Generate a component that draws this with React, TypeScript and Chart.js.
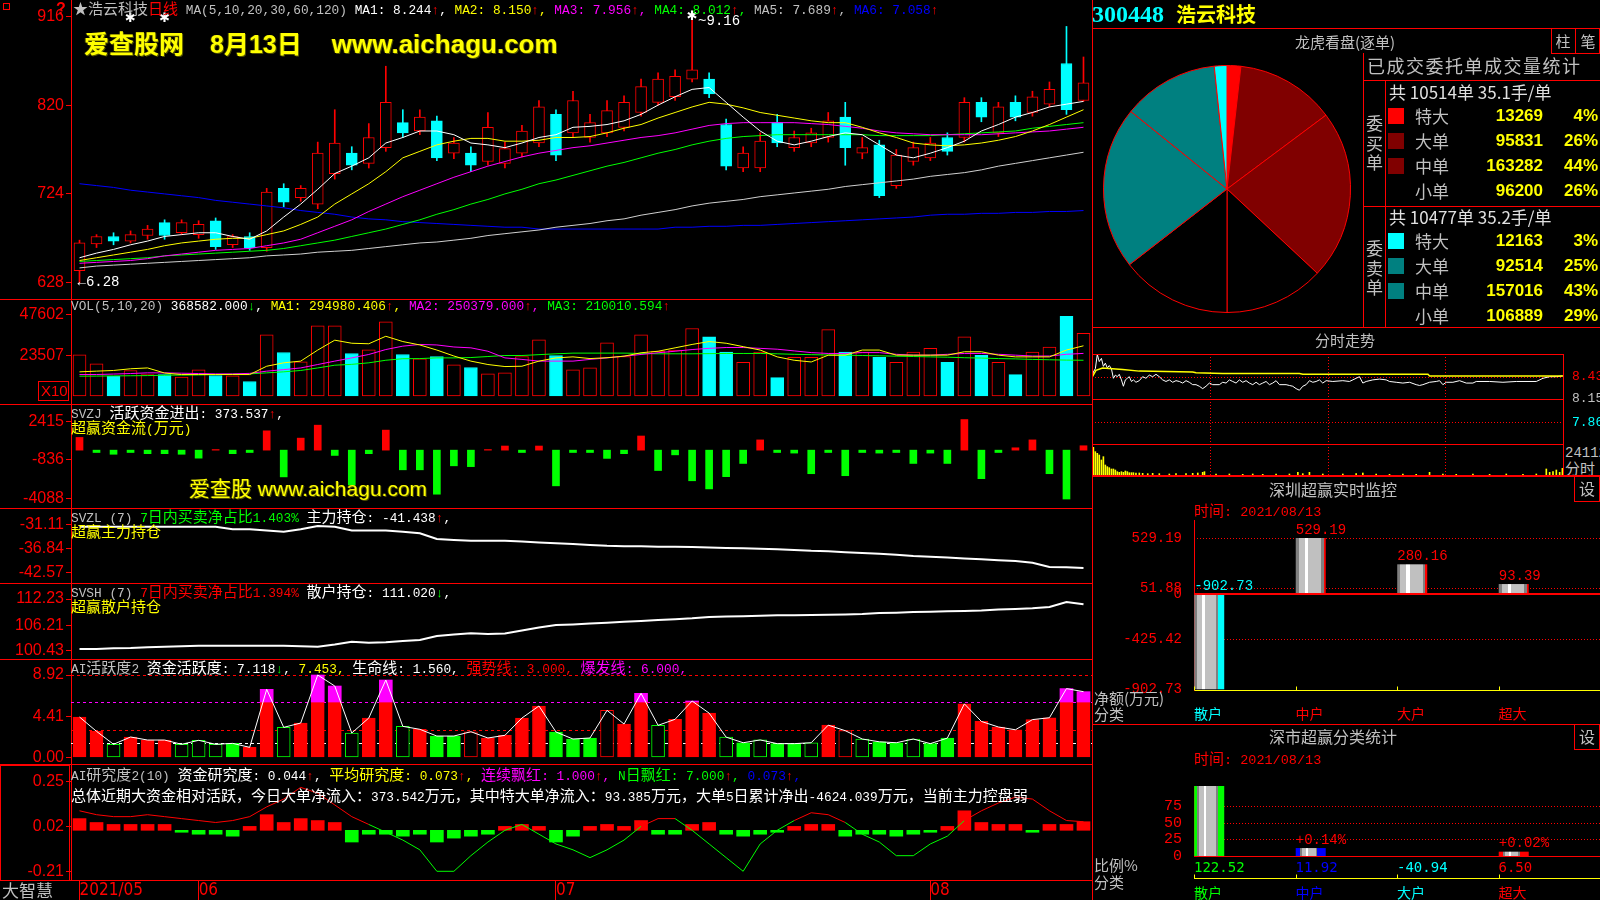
import React, { useEffect, useRef } from 'react';
import { Chart, registerables } from 'chart.js';

Chart.register(...registerables);

const RED = '#ff0000';
const DARKRED = '#800000';
const CYAN = '#00ffff';
const TEAL = '#008080';
const GREEN = '#00ff00';
const YELLOW = '#ffff00';
const MAGENTA = '#ff00ff';
const WHITE = '#ffffff';
const GRAY = '#c0c0c0';
const BLUE = '#0000ff';
const MONO = '"Liberation Mono", "DejaVu Sans Mono", monospace';
const CJK = '"Noto Sans CJK SC", sans-serif';
const NUM = '"Liberation Sans", Arial, sans-serif';
const NARROW = '"Liberation Sans Narrow", "DejaVu Sans Condensed", "Liberation Sans", sans-serif';

// ---------------- daily data ----------------
const dates = [
  '2021/05/21', '2021/05/24', '2021/05/25', '2021/05/26', '2021/05/27', '2021/05/28', '2021/05/31',
  '2021/06/01', '2021/06/02', '2021/06/03', '2021/06/04', '2021/06/07', '2021/06/08', '2021/06/09', '2021/06/10', '2021/06/11',
  '2021/06/15', '2021/06/16', '2021/06/17', '2021/06/18', '2021/06/21', '2021/06/22', '2021/06/23', '2021/06/24', '2021/06/25',
  '2021/06/28', '2021/06/29', '2021/06/30',
  '2021/07/01', '2021/07/02', '2021/07/05', '2021/07/06', '2021/07/07', '2021/07/08', '2021/07/09', '2021/07/12', '2021/07/13',
  '2021/07/14', '2021/07/15', '2021/07/16', '2021/07/19', '2021/07/20', '2021/07/21', '2021/07/22', '2021/07/23', '2021/07/26',
  '2021/07/27', '2021/07/28', '2021/07/29', '2021/07/30',
  '2021/08/02', '2021/08/03', '2021/08/04', '2021/08/05', '2021/08/06', '2021/08/09', '2021/08/10', '2021/08/11', '2021/08/12', '2021/08/13',
];
const opens = [6.41, 6.70, 6.78, 6.73, 6.79, 6.93, 6.82, 6.80, 6.95, 6.69, 6.78, 6.66, 7.30, 7.20, 7.13, 7.46, 7.68, 7.57, 7.74, 8.01, 7.92, 8.03, 7.68, 7.68, 7.59, 7.57, 7.68, 7.79, 8.10, 7.90, 7.85, 7.90, 7.96, 8.12, 8.23, 8.29, 8.48, 8.48, 7.99, 7.52, 7.52, 8.01, 7.74, 7.79, 7.85, 8.07, 7.68, 7.77, 7.33, 7.59, 7.63, 7.85, 7.85, 8.23, 7.90, 8.23, 8.12, 8.21, 8.65, 8.25];
const highs = [6.74, 6.80, 6.82, 6.84, 6.90, 6.96, 6.96, 6.95, 6.98, 6.80, 6.82, 7.30, 7.35, 7.33, 7.80, 8.15, 7.75, 8.00, 8.62, 8.15, 8.15, 8.08, 7.85, 7.75, 8.12, 7.80, 7.98, 8.25, 8.15, 8.35, 8.10, 8.25, 8.30, 8.48, 8.55, 8.58, 9.16, 8.55, 8.05, 7.75, 7.90, 8.10, 7.92, 7.95, 8.12, 8.23, 7.85, 7.82, 7.72, 7.80, 7.85, 7.90, 8.28, 8.28, 8.23, 8.30, 8.35, 8.45, 9.05, 8.72];
const lows = [6.28, 6.66, 6.69, 6.71, 6.75, 6.75, 6.80, 6.76, 6.64, 6.66, 6.63, 6.62, 7.10, 7.16, 7.08, 7.40, 7.50, 7.52, 7.70, 7.85, 7.88, 7.60, 7.62, 7.48, 7.55, 7.52, 7.64, 7.75, 7.60, 7.86, 7.80, 7.86, 7.92, 8.08, 8.20, 8.25, 8.45, 8.28, 7.50, 7.48, 7.48, 7.75, 7.70, 7.75, 7.80, 7.55, 7.62, 7.20, 7.30, 7.55, 7.60, 7.66, 7.80, 8.02, 7.86, 8.03, 8.08, 8.18, 8.10, 8.24];
const closes = [6.71, 6.78, 6.73, 6.80, 6.86, 6.79, 6.93, 6.91, 6.67, 6.78, 6.66, 7.26, 7.15, 7.30, 7.68, 7.79, 7.55, 7.85, 8.23, 7.90, 8.07, 7.63, 7.79, 7.55, 7.96, 7.73, 7.92, 8.18, 7.66, 8.25, 8.01, 8.14, 8.23, 8.40, 8.48, 8.51, 8.58, 8.32, 7.54, 7.68, 7.81, 7.79, 7.85, 7.90, 8.03, 7.74, 7.74, 7.22, 7.66, 7.74, 7.79, 7.70, 8.23, 8.07, 8.18, 8.07, 8.29, 8.37, 8.15, 8.44];
const ma5 = [6.55, 6.60, 6.64, 6.69, 6.73, 6.78, 6.80, 6.82, 6.82, 6.78, 6.75, 6.84, 6.99, 7.13, 7.29, 7.46, 7.54, 7.63, 7.79, 7.85, 7.92, 7.92, 7.88, 7.79, 7.77, 7.74, 7.79, 7.85, 7.88, 7.96, 7.97, 7.99, 8.03, 8.10, 8.20, 8.29, 8.37, 8.39, 8.23, 8.07, 7.92, 7.81, 7.77, 7.81, 7.86, 7.90, 7.88, 7.77, 7.66, 7.63, 7.68, 7.74, 7.81, 7.92, 7.99, 8.07, 8.12, 8.18, 8.21, 8.24];
const ma10 = [6.52, 6.55, 6.58, 6.61, 6.64, 6.68, 6.71, 6.73, 6.75, 6.76, 6.76, 6.80, 6.84, 6.91, 6.99, 7.13, 7.24, 7.35, 7.48, 7.63, 7.70, 7.77, 7.81, 7.84, 7.84, 7.81, 7.81, 7.82, 7.85, 7.85, 7.86, 7.90, 7.95, 7.99, 8.06, 8.12, 8.18, 8.23, 8.21, 8.17, 8.12, 8.09, 8.06, 8.03, 8.01, 8.01, 7.96, 7.90, 7.85, 7.79, 7.77, 7.76, 7.77, 7.79, 7.82, 7.86, 7.92, 7.99, 8.07, 8.15];
const ma20 = [6.49, 6.50, 6.51, 6.52, 6.54, 6.57, 6.59, 6.61, 6.63, 6.64, 6.65, 6.68, 6.71, 6.75, 6.82, 6.89, 6.96, 7.05, 7.13, 7.21, 7.28, 7.35, 7.42, 7.48, 7.54, 7.59, 7.64, 7.68, 7.71, 7.74, 7.76, 7.79, 7.82, 7.85, 7.87, 7.90, 7.94, 7.98, 8.00, 8.01, 8.01, 8.01, 8.01, 8.00, 7.99, 7.97, 7.95, 7.92, 7.90, 7.89, 7.88, 7.88, 7.88, 7.88, 7.89, 7.90, 7.91, 7.92, 7.94, 7.96];
const ma30 = [6.51, 6.52, 6.53, 6.54, 6.55, 6.57, 6.58, 6.59, 6.60, 6.61, 6.62, 6.63, 6.65, 6.68, 6.71, 6.74, 6.78, 6.82, 6.86, 6.91, 6.96, 7.02, 7.07, 7.13, 7.18, 7.24, 7.29, 7.35, 7.39, 7.44, 7.49, 7.54, 7.58, 7.63, 7.68, 7.72, 7.77, 7.81, 7.84, 7.86, 7.87, 7.88, 7.88, 7.88, 7.88, 7.88, 7.88, 7.87, 7.87, 7.87, 7.87, 7.88, 7.89, 7.90, 7.91, 7.92, 7.95, 7.97, 7.99, 8.01];
const ma60 = [6.44, 6.46, 6.47, 6.48, 6.49, 6.50, 6.51, 6.52, 6.53, 6.54, 6.55, 6.57, 6.58, 6.59, 6.61, 6.62, 6.63, 6.65, 6.67, 6.69, 6.71, 6.72, 6.74, 6.76, 6.79, 6.81, 6.83, 6.85, 6.88, 6.90, 6.92, 6.95, 6.97, 7.01, 7.04, 7.07, 7.11, 7.14, 7.16, 7.18, 7.21, 7.23, 7.25, 7.27, 7.29, 7.32, 7.34, 7.36, 7.38, 7.40, 7.43, 7.45, 7.47, 7.50, 7.54, 7.57, 7.60, 7.63, 7.66, 7.69];
const ma120 = [7.35, 7.33, 7.31, 7.28, 7.26, 7.24, 7.22, 7.20, 7.17, 7.15, 7.13, 7.11, 7.09, 7.06, 7.04, 7.02, 6.99, 6.97, 6.96, 6.94, 6.93, 6.92, 6.91, 6.90, 6.89, 6.88, 6.88, 6.86, 6.86, 6.86, 6.86, 6.86, 6.86, 6.86, 6.86, 6.88, 6.88, 6.89, 6.89, 6.90, 6.90, 6.91, 6.92, 6.93, 6.94, 6.95, 6.96, 6.97, 6.98, 6.99, 7.01, 7.02, 7.02, 7.03, 7.03, 7.04, 7.04, 7.05, 7.05, 7.06];
const priceTicks = [6.28, 7.24, 8.2, 9.16];
const eventBars = [3, 5];

const volume = [24200, 18900, 11650, 15000, 12640, 12640, 11050, 15400, 12050, 11870, 8520, 35970, 25570, 20100, 41250, 41250, 24980, 27150, 43600, 24400, 21860, 23200, 18340, 16750, 13050, 13640, 23200, 33030, 23800, 15400, 16570, 31270, 23200, 35970, 26330, 26920, 39670, 34760, 25770, 19780, 25770, 10790, 22770, 22770, 38960, 25770, 25770, 22770, 19780, 25770, 28000, 19780, 34760, 23970, 19780, 12590, 25770, 28770, 46750, 36858];
const volMa5 = [14200, 14600, 15000, 16000, 16500, 13500, 12600, 12600, 12600, 12600, 12600, 17500, 19500, 20500, 27000, 32800, 31000, 30700, 35100, 32000, 30000, 27000, 23500, 20500, 18500, 17300, 17500, 20500, 22400, 23000, 22000, 22500, 23400, 25400, 26300, 28300, 30300, 32000, 31000, 29000, 27000, 23000, 21000, 20000, 24000, 24000, 27000, 27000, 24000, 24000, 24000, 24000, 26000, 26000, 24000, 23000, 23000, 23000, 27000, 29498];
const volMa10 = [12630, 12630, 12900, 13200, 13600, 13600, 13400, 13200, 13000, 13000, 13300, 14600, 15500, 16500, 18500, 20500, 22400, 24400, 27300, 29300, 30300, 30000, 28800, 28300, 26300, 22400, 21500, 20500, 20500, 20500, 21500, 22400, 23400, 24400, 25400, 26300, 27300, 28000, 28500, 28500, 28000, 27500, 26500, 25500, 25000, 25000, 25500, 25500, 24500, 24000, 24000, 24500, 25000, 25000, 24500, 24000, 23500, 23500, 24500, 25038];
const volMa20 = [11650, 11700, 11800, 11900, 12000, 12200, 12300, 12400, 12600, 12800, 13000, 13600, 14200, 15000, 16500, 18100, 18600, 19500, 21000, 21900, 22000, 22400, 22400, 22600, 23200, 23800, 23800, 24300, 24800, 25200, 25200, 25200, 25200, 25000, 24800, 24800, 24800, 24900, 25000, 25000, 25000, 24800, 24500, 24300, 24100, 24000, 23800, 23600, 23400, 23200, 23000, 22800, 22500, 22300, 22000, 21800, 21500, 21300, 21100, 21001];
const volTicks = [23507, 47602];

const flow = [1078, -200, -350, -200, -300, -300, -350, -680, 50, -300, -200, 1640, -2270, 1020, 2120, -450, -2970, -300, 1700, -1670, -1670, -3740, -1330, -1400, 50, 350, -200, 350, -3030, -200, -200, -700, -300, 1200, -1730, -400, -2600, -3290, -2250, -1130, 870, -200, -250, -2000, -200, -2170, -200, -250, -200, -1130, -250, -1130, 2600, -2420, -200, 200, 870, -2000, -4150, 374];
const flowTicks = [-4088, -836, 2415];

const mainHold = [-31.68, -31.68, -31.68, -31.68, -31.68, -31.68, -31.68, -31.68, -31.68, -32.29, -32.29, -32.6, -32.86, -32.29, -31.51, -31.68, -32.6, -32.6, -32.6, -32.9, -33.24, -34.59, -34.83, -34.99, -34.99, -35.0, -35.2, -35.4, -35.6, -35.8, -36.0, -36.2, -36.3, -36.3, -36.4, -36.4, -36.5, -36.6, -36.7, -36.8, -36.9, -37.0, -37.2, -37.4, -37.5, -37.7, -37.9, -38.1, -38.3, -38.6, -38.8, -39.0, -39.2, -39.4, -39.6, -39.8, -40.2, -41.2, -41.3, -41.44];
const mainTicks = [-42.57, -36.84, -31.11];

const retailHold = [100.77, 100.77, 100.93, 101.0, 101.2, 101.3, 101.4, 101.5, 101.53, 101.53, 101.53, 101.53, 101.5, 101.4, 101.3, 101.8, 102.45, 102.22, 102.3, 102.6, 102.83, 103.75, 104.1, 104.37, 104.2, 104.3, 105.0, 105.7, 106.27, 106.4, 106.6, 106.8, 107.0, 107.2, 107.4, 107.6, 107.8, 108.1, 108.2, 108.3, 108.4, 108.5, 108.5, 108.56, 108.6, 108.7, 108.8, 109.0, 109.1, 109.25, 109.3, 109.4, 109.5, 109.6, 109.8, 109.94, 110.1, 110.4, 111.54, 111.02];
const retailTicks = [100.43, 106.21, 112.23];

const activity = [4.38, 2.83, 1.43, 2.22, 1.89, 1.89, 1.43, 1.86, 1.43, 1.53, 1.10, 7.37, 3.26, 3.73, 8.92, 7.73, 2.65, 4.27, 8.38, 3.37, 3.05, 2.32, 2.32, 2.79, 2.11, 2.40, 4.27, 5.57, 2.76, 2.00, 2.11, 5.10, 3.62, 6.94, 3.48, 4.13, 6.11, 4.8, 2.2, 1.6, 1.9, 1.5, 1.5, 1.6, 3.5, 2.9, 2.0, 1.7, 1.6, 2.0, 1.5, 2.1, 5.8, 3.9, 3.3, 3.0, 4.1, 4.3, 7.45, 7.12];
const activityKind = 'RRgRRRgggGRRgRRRgRRgRGGrRRRRGGGrRRgRR' + 'RgGgGGgRrgGGgGGRRRRRRRR';
const activityTicks = [0, 4.41, 8.92];
const activityLevels = [8.92, 6, 3, 1.56];

const research = [0.06, 0.04, 0.03, 0.03, 0.03, 0.03, -0.01, -0.02, -0.02, -0.03, 0.02, 0.08, 0.04, 0.06, 0.05, 0.04, -0.06, -0.02, -0.02, -0.03, -0.02, -0.06, -0.04, -0.03, -0.02, 0.02, 0.03, 0.02, -0.06, -0.03, 0.02, 0.03, 0.02, 0.05, -0.02, -0.02, 0.03, 0.04, -0.02, -0.03, -0.02, -0.01, 0.02, 0.03, 0.03, -0.03, -0.02, -0.02, -0.03, -0.02, -0.01, 0.02, 0.10, 0.04, 0.03, 0.03, -0.01, 0.03, 0.03, 0.044];
const researchLine = [0.10, 0.08, 0.07, 0.07, 0.08, 0.07, 0.06, 0.05, 0.04, 0.05, 0.07, 0.12, 0.16, 0.22, 0.19, 0.13, 0.07, 0.03, -0.01, -0.05, -0.10, -0.21, -0.21, -0.13, -0.06, 0.00, 0.03, -0.02, -0.07, -0.10, -0.14, -0.10, -0.05, 0.02, 0.06, 0.06, 0.00, -0.07, -0.14, -0.21, -0.07, 0.00, 0.05, 0.09, 0.08, 0.04, -0.02, -0.06, -0.13, -0.13, -0.07, -0.03, 0.05, 0.10, 0.14, 0.17, 0.16, 0.10, 0.05, 0.044];
const researchTicks = [-0.21, 0.02, 0.25];

// ---------------- order statistics (pie) ----------------
const orderTypes = ['特大', '大单', '中单', '小单'];
const buyVolume = [13269, 95831, 163282, 96200];
const sellVolume = [12163, 92514, 157016, 106889];
const buyOrders = '10514';
const sellOrders = '10477';
const buyAvg = '35.1';
const sellAvg = '35.2';

// ---------------- intraday ----------------
const intradayMin = [0, 0.7, 1.7, 2.7, 3.7, 4.8, 5.8, 6.8, 7.8, 8.8, 9.9, 10.9, 11.9, 12.9, 13.9, 15.0, 16.0, 17.0, 18.0, 19.0, 20.1, 21.1, 22.4, 24.1, 25.8, 27.5, 29.2, 30.9, 32.6, 34.3, 36.0, 37.7, 39.4, 41.1, 42.8, 44.5, 46.2, 47.9, 49.6, 51.3, 53.0, 54.7, 56.4, 58.1, 59.8, 61.5, 64.9, 66.6, 68.3, 70.0, 71.7, 73.4, 75.1, 76.8, 78.5, 80.2, 81.9, 83.6, 85.3, 87.0, 88.7, 90.4, 92.1, 93.8, 95.5, 98.9, 100.6, 102.3, 104.0, 105.7, 107.4, 109.1, 110.8, 112.5, 114.2, 115.9, 117.6, 119.3, 122.7, 127.8, 131.2, 134.6, 136.3, 138.0, 139.7, 143.1, 146.5, 149.9, 151.6, 155.0, 158.4, 161.8, 165.2, 166.9, 168.6, 172.0, 175.4, 177.1, 178.8, 180.5, 183.9, 187.3, 190.7, 194.1, 195.8, 202.6, 209.4, 216.2, 226.4, 229.8, 233.2, 236.6, 239.7];
const intradayPx = [8.41, 8.49, 8.53, 8.71, 8.62, 8.66, 8.56, 8.60, 8.54, 8.57, 8.53, 8.41, 8.45, 8.43, 8.46, 8.39, 8.31, 8.39, 8.41, 8.43, 8.37, 8.39, 8.36, 8.38, 8.43, 8.41, 8.45, 8.43, 8.46, 8.43, 8.39, 8.37, 8.39, 8.36, 8.38, 8.37, 8.35, 8.38, 8.36, 8.33, 8.33, 8.31, 8.28, 8.31, 8.35, 8.33, 8.33, 8.36, 8.35, 8.39, 8.37, 8.35, 8.39, 8.36, 8.38, 8.35, 8.33, 8.36, 8.33, 8.35, 8.37, 8.33, 8.35, 8.38, 8.33, 8.33, 8.32, 8.31, 8.28, 8.26, 8.31, 8.33, 8.38, 8.36, 8.37, 8.39, 8.35, 8.38, 8.37, 8.38, 8.37, 8.41, 8.43, 8.35, 8.37, 8.39, 8.40, 8.39, 8.37, 8.36, 8.35, 8.36, 8.33, 8.32, 8.33, 8.36, 8.37, 8.38, 8.33, 8.36, 8.36, 8.38, 8.35, 8.35, 8.37, 8.37, 8.36, 8.37, 8.37, 8.41, 8.43, 8.43, 8.44];
const avgMin = [0, 2, 5.4, 10.5, 15.6, 24.1, 51.3, 53, 66.6, 105.7, 107.4, 171.2, 172, 240];
const avgPx = [8.42, 8.51, 8.54, 8.53, 8.52, 8.50, 8.49, 8.48, 8.47, 8.47, 8.46, 8.46, 8.44, 8.44];
const ivolMin = [0.7, 1.7, 2.7, 3.7, 4.8, 5.8, 6.8, 7.8, 8.8, 9.9, 10.9, 11.9, 12.9, 13.9, 15.0, 16.0, 17.0, 18.0, 19.0, 20.1, 21.1, 22.4, 24.1, 25.8, 28.4, 30.9, 34.3, 39.4, 42.8, 47.9, 51.3, 53.9, 56.4, 57.3, 63.2, 70.0, 76.8, 81.9, 87.0, 93.8, 100.6, 104.9, 107.4, 110.8, 117.6, 127.8, 134.6, 138.0, 144.8, 151.6, 158.4, 165.2, 172.0, 178.8, 185.6, 194.1, 202.6, 211.1, 219.6, 226.4, 231.5, 233.2, 234.9, 236.6, 238.3, 239.7];
const ivolVal = [21520, 18150, 16850, 15560, 11670, 14260, 7780, 6480, 5700, 4670, 4670, 3890, 2590, 2070, 2590, 2070, 3110, 2590, 1810, 1810, 1810, 1560, 1560, 1300, 1040, 1300, 1040, 780, 1040, 1040, 1300, 1560, 2070, 2590, 780, 780, 520, 780, 520, 780, 780, 2070, 1040, 2070, 780, 780, 1040, 1560, 780, 520, 780, 520, 2070, 780, 520, 780, 520, 780, 520, 780, 4670, 2070, 2590, 3890, 2070, 5190];
const intradayTicks = [7.86, 8.15, 8.43];
const intradayVolMax = 24112;

// ---------------- Shenzhen monitors ----------------
const monitorCats = ['散户', '中户', '大户', '超大'];
const monitorNet = [-902.73, 529.19, 280.16, 93.39];
const monitorTicks = [-902.73, -425.42, 0, 51.88, 529.19];
const ratioVal = [122.52, 11.92, -40.94, 6.5];
const ratioChange = ['', '+0.14%', '', '+0.02%'];
const ratioTicks = [0, 25, 50, 75];

// ---------------- helpers ----------------
const isUp = (i: number) => closes[i] >= opens[i];
const AXIS_W = 71;

function leftAxis(min: number, max: number, ticks: number[], fmt: (v: number) => string) {
  return {
    type: 'linear', position: 'left', min, max,
    afterBuildTicks: (s: any) => { s.ticks = ticks.map((value) => ({ value })); },
    afterFit: (s: any) => { s.width = AXIS_W; s.paddingTop = 0; s.paddingBottom = 0; },
    ticks: { color: RED, font: { family: NUM, size: 16 }, padding: 2, autoSkip: false, callback: (v: any) => fmt(Number(v)) },
    grid: { drawOnChartArea: false, color: RED, tickLength: 5 },
    border: { color: RED },
  };
}
const hiddenX = () => ({ type: 'category', display: false, offset: true });

function opts(scales: any, plugins: any = {}, layout: any = { padding: 0 }) {
  return {
    responsive: false, animation: false, devicePixelRatio: 1, events: [], layout, scales,
    plugins: { legend: { display: false }, tooltip: { enabled: false }, ...plugins },
  };
}

function drawGuides(chart: any, list: any[]) {
  if (!list) return;
  const { ctx, chartArea: a } = chart;
  ctx.save();
  for (const g of list) {
    ctx.beginPath();
    ctx.strokeStyle = g.color;
    ctx.lineWidth = g.width || 1;
    ctx.setLineDash(g.dash || []);
    if (g.y !== undefined) {
      const y = Math.round(chart.scales[g.axis || 'y'].getPixelForValue(g.y)) + ((g.width || 1) % 2 ? 0.5 : 0);
      ctx.moveTo(a.left, y); ctx.lineTo(a.right, y);
    } else {
      const x = Math.round(chart.scales.x.getPixelForValue(g.x)) + 0.5;
      ctx.moveTo(x, a.top); ctx.lineTo(x, a.bottom);
    }
    ctx.stroke();
  }
  ctx.restore();
}
const guides = {
  id: 'guides',
  beforeDatasetsDraw(chart: any, _a: any, o: any) { drawGuides(chart, o.before); },
  afterDatasetsDraw(chart: any, _a: any, o: any) { drawGuides(chart, o.after); },
};

const priceMarks = {
  id: 'priceMarks',
  afterDatasetsDraw(chart: any) {
    const { ctx } = chart;
    const xs = chart.scales.x, ys = chart.scales.y;
    const hi = Math.max(...highs), hiI = highs.indexOf(hi);
    const lo = Math.min(...lows), loI = lows.indexOf(lo);
    ctx.save();
    ctx.fillStyle = WHITE;
    ctx.textBaseline = 'middle';
    ctx.font = '13px "DejaVu Sans"';
    ctx.textAlign = 'center';
    const hx = xs.getPixelForValue(hiI), hy = ys.getPixelForValue(hi);
    ctx.fillText('✱', hx, hy);
    eventBars.forEach((i) => ctx.fillText('✱', xs.getPixelForValue(i), 19));
    ctx.font = '14px ' + MONO;
    ctx.textAlign = 'left';
    ctx.fillText('~' + hi.toFixed(2), hx + 6, hy + 5);
    ctx.fillText('←' + lo.toFixed(2), xs.getPixelForValue(loI) - 2, ys.getPixelForValue(lo));
    ctx.restore();
  },
};

const INNER: [number, string][] = [[0.1, '#808080'], [0.22, '#c0c0c0'], [0.13, '#ffffff'], [0.45, '#c0c0c0'], [0.1, '#808080']];
const stripes = {
  id: 'stripes',
  afterDatasetsDraw(chart: any, _a: any, o: any) {
    const { ctx, chartArea: a } = chart;
    const els = chart.getDatasetMeta(0).data;
    ctx.save();
    ctx.beginPath();
    ctx.rect(a.left, a.top, a.right - a.left, a.bottom - a.top);
    ctx.clip();
    els.forEach((el: any, i: number) => {
      const p = el.getProps(['x', 'y', 'base', 'width'], true);
      const x0 = p.x - p.width / 2;
      const top = Math.min(p.y, p.base);
      const h = Math.abs(p.base - p.y);
      if (h < 0.5) return;
      const L = o.edgeL[i], R = o.edgeR[i], mid = 1 - L - R;
      const segs: [number, string][] = [[L, o.edges[i]], ...INNER.map(([f, c]) => [f * mid, c] as [number, string]), [R, o.edges[i]]];
      const g = ctx.createLinearGradient(x0, 0, x0 + p.width, 0);
      let acc = 0;
      segs.forEach(([f, c]) => {
        if (f <= 0) return;
        g.addColorStop(Math.min(acc, 1), c);
        acc += f;
        g.addColorStop(Math.min(acc, 1), c);
      });
      ctx.fillStyle = g;
      ctx.fillRect(x0, top, p.width, h);
    });
    ctx.restore();
    ctx.save();
    ctx.font = '14px ' + MONO;
    ctx.textAlign = 'left';
    ctx.textBaseline = 'bottom';
    els.forEach((el: any, i: number) => {
      const t = o.labels[i];
      if (!t) return;
      const p = el.getProps(['x', 'y', 'base', 'width'], true);
      ctx.fillStyle = o.labelColors[i];
      ctx.fillText(t, p.x - p.width / 2, Math.min(p.y, p.base) - 1);
    });
    ctx.restore();
  },
};

const rail = {
  id: 'rail',
  afterDraw(chart: any, _a: any, o: any) {
    if (!o || !o.color) return;
    const { ctx, chartArea: a } = chart;
    const y = Math.round(a.bottom + o.off) + 0.5;
    ctx.save();
    ctx.strokeStyle = o.color;
    ctx.lineWidth = 1;
    ctx.beginPath();
    if (o.line) { ctx.moveTo(a.left, y); ctx.lineTo(a.right, y); }
    o.xs.forEach((v: number) => {
      const x = Math.round(chart.scales.x.getPixelForValue(v)) + 0.5;
      ctx.moveTo(x, y); ctx.lineTo(x, y - o.len);
    });
    ctx.stroke();
    ctx.restore();
  },
};

const monthLabel = (i: number) => {
  if (i === 0) return dates[0].slice(0, 7);
  const m = dates[i].slice(5, 7);
  return m !== dates[i - 1].slice(5, 7) ? m : '';
};

// ---------------- chart configs ----------------
const line = (data: number[], color: string, width = 1, order = 0) => ({
  type: 'line', data, borderColor: color, borderWidth: width, pointRadius: 0, order,
});

const priceConfig = () => ({
  type: 'bar',
  data: {
    labels: dates,
    datasets: [
      line(ma5, WHITE), line(ma10, YELLOW), line(ma20, MAGENTA), line(ma30, GREEN), line(ma60, '#d0d0d0'), line(ma120, BLUE),
      {
        data: opens.map((o, i) => [o, closes[i]]),
        backgroundColor: opens.map((_, i) => (isUp(i) ? '#000000' : CYAN)),
        borderColor: opens.map((_, i) => (isUp(i) ? RED : CYAN)),
        borderWidth: 1, borderSkipped: false, barThickness: 11, grouped: false, order: 1,
      },
      {
        data: lows.map((l, i) => [l, highs[i]]),
        backgroundColor: opens.map((_, i) => (isUp(i) ? RED : CYAN)),
        barThickness: 1, grouped: false, order: 2,
      },
    ],
  },
  options: opts({ x: hiddenX(), y: leftAxis(6.104, 9.336, priceTicks, (v) => String(Math.round(v * 100))) }),
  plugins: [priceMarks],
});

const volConfig = () => ({
  type: 'bar',
  data: {
    labels: dates,
    datasets: [
      line(volMa5, YELLOW), line(volMa10, MAGENTA), line(volMa20, GREEN),
      {
        data: volume,
        backgroundColor: volume.map((_, i) => (isUp(i) ? '#000000' : CYAN)),
        borderColor: volume.map((_, i) => (isUp(i) ? RED : CYAN)),
        borderWidth: 1, borderSkipped: false, barThickness: 13, order: 1,
      },
    ],
  },
  options: opts({ x: hiddenX(), y: leftAxis(-4702, 57004, volTicks, (v) => String(Math.round(v))) }),
});

const flowConfig = () => ({
  type: 'bar',
  data: {
    labels: dates,
    datasets: [{ data: flow, backgroundColor: flow.map((v) => (v >= 0 ? RED : GREEN)), barThickness: 7 }],
  },
  options: opts({ x: hiddenX(), y: leftAxis(-4911, 3917, flowTicks, (v) => String(v)) }),
});

const holdConfig = (data: number[], min: number, max: number, ticks: number[]) => () => ({
  type: 'line',
  data: { labels: dates, datasets: [{ data, borderColor: WHITE, borderWidth: 2, pointRadius: 0 }] },
  options: opts({ x: hiddenX(), y: leftAxis(min, max, ticks, (v) => v.toFixed(2)) }),
});

const kindFill = (k: string) => (k === 'R' ? RED : k === 'G' ? GREEN : '#000000');
const kindEdge = (k: string) => (k === 'R' || k === 'r' ? RED : GREEN);
const activityConfig = () => ({
  type: 'bar',
  data: {
    labels: dates,
    datasets: [
      line(activity, WHITE, 1, 0),
      { data: activity.map((v) => (v > 6 ? [6, v] : null)), backgroundColor: MAGENTA, barThickness: 13, grouped: false, order: 1 },
      {
        data: activity.map((v) => Math.min(v, 6)),
        backgroundColor: activity.map((_, i) => kindFill(activityKind[i])),
        borderColor: activity.map((_, i) => kindEdge(activityKind[i])),
        borderWidth: 1, borderSkipped: false, barThickness: 13, grouped: false, order: 2,
      },
    ],
  },
  options: opts(
    { x: hiddenX(), y: leftAxis(-0.7, 10.65, activityTicks, (v) => v.toFixed(2)) },
    {
      guides: {
        before: [
          { y: activityLevels[0], color: RED, dash: [3, 3] },
          { y: activityLevels[1], color: MAGENTA, dash: [3, 3] },
          { y: activityLevels[2], color: RED, dash: [3, 3] },
          { y: activityLevels[3], color: WHITE, dash: [3, 3] },
        ],
      },
    },
  ),
  plugins: [guides],
});

const researchConfig = () => ({
  type: 'bar',
  data: {
    labels: dates,
    datasets: [
      {
        type: 'line', data: researchLine, borderWidth: 1, pointRadius: 0, order: 0, borderColor: RED,
        segment: { borderColor: (c: any) => (Math.min(c.p0.parsed.y, c.p1.parsed.y) < 0.02 ? GREEN : RED) },
      },
      { data: research, backgroundColor: research.map((v) => (v >= 0 ? RED : GREEN)), barThickness: 13, order: 1 },
    ],
  },
  options: opts({
    x: {
      type: 'category', offset: true, position: 'bottom',
      afterFit: (s: any) => { s.height = 20; s.paddingLeft = 0; s.paddingRight = 0; },
      grid: { drawOnChartArea: false, offset: false, tickLength: 20, color: (c: any) => (monthLabel(c.index) ? RED : 'rgba(0,0,0,0)') },
      border: { color: RED },
      ticks: {
        autoSkip: false, maxRotation: 0, align: 'start', padding: -20, color: RED,
        font: { family: NARROW, size: 17 }, callback: (_v: any, i: number) => monthLabel(i),
      },
    },
    y: leftAxis(-0.2546, 0.3397, researchTicks, (v) => v.toFixed(2)),
  }),
});

const pieConfig = () => ({
  type: 'pie',
  data: {
    labels: [...orderTypes.map((t) => '买' + t), ...orderTypes.slice().reverse().map((t) => '卖' + t)],
    datasets: [{
      data: [...buyVolume, ...sellVolume.slice().reverse()],
      backgroundColor: [RED, DARKRED, DARKRED, '#000000', '#000000', TEAL, TEAL, CYAN],
      borderColor: RED, borderWidth: 1,
    }],
  },
  options: opts(undefined as any),
});

const intradayConfig = () => ({
  type: 'line',
  data: {
    datasets: [
      { data: avgMin.map((m, i) => ({ x: m, y: avgPx[i] })), borderColor: YELLOW, borderWidth: 1.5, pointRadius: 0 },
      { data: intradayMin.map((m, i) => ({ x: m, y: intradayPx[i] })), borderColor: WHITE, borderWidth: 1, pointRadius: 0 },
    ],
  },
  options: opts(
    {
      x: { type: 'linear', min: 0, max: 240, display: false },
      y: {
        type: 'linear', position: 'right', min: 7.585, max: 8.715,
        afterBuildTicks: (s: any) => { s.ticks = intradayTicks.map((value) => ({ value })); },
        afterFit: (s: any) => { s.width = 37; s.paddingTop = 0; s.paddingBottom = 0; },
        ticks: { color: (c: any) => [CYAN, GRAY, RED][c.index], font: { family: MONO, size: 13 }, padding: 1, callback: (v: any) => Number(v).toFixed(2) },
        grid: { display: false },
        border: { color: RED },
      },
    },
    {
      guides: {
        before: [
          { y: intradayTicks[2], color: RED, dash: [1, 2] },
          { y: intradayTicks[0], color: RED, dash: [1, 2] },
          { y: intradayTicks[1], color: RED },
          { x: 60, color: RED, dash: [1, 2] }, { x: 120, color: RED, dash: [1, 2] }, { x: 180, color: RED, dash: [1, 2] },
        ],
      },
    },
  ),
  plugins: [guides],
});

const intradayVolConfig = () => ({
  type: 'bar',
  data: { datasets: [{ data: ivolMin.map((m, i) => ({ x: m, y: ivolVal[i] })), backgroundColor: YELLOW, barThickness: 1 }] },
  options: opts(
    {
      x: { type: 'linear', min: 0, max: 240, display: false, offset: false },
      y: { type: 'linear', min: 0, max: intradayVolMax, display: false },
    },
    { guides: { before: [{ x: 60, color: RED, dash: [1, 2] }, { x: 120, color: RED, dash: [1, 2] }, { x: 180, color: RED, dash: [1, 2] }] } },
  ),
  plugins: [guides],
});

const catX = (afterFitH: number, padding: number, colors: string[], labels: (i: number) => any, lineHeight: number) => ({
  type: 'linear', min: 0, max: 4, offset: false,
  afterBuildTicks: (s: any) => { s.ticks = [0, 1, 2, 3].map((value) => ({ value })); },
  afterFit: (s: any) => { s.height = afterFitH; s.paddingLeft = 0; s.paddingRight = 0; },
  ticks: {
    align: 'start', padding, autoSkip: false, maxRotation: 0,
    color: (c: any) => colors[c.index],
    font: { family: '"DejaVu Sans Mono", "Noto Sans CJK SC", monospace', size: 14, lineHeight },
    callback: (v: any) => labels(Number(v)),
  },
  grid: { display: false },
});

const monitorConfig = () => ({
  type: 'bar',
  data: { datasets: [{ data: monitorNet.map((v, i) => ({ x: i + 0.15, y: v })), backgroundColor: 'rgba(0,0,0,0)', barThickness: 30 }] },
  options: opts(
    {
      x: { ...catX(34, 9, [CYAN, RED, RED, RED], (i) => monitorCats[i], 1.2), border: { color: YELLOW } },
      y: {
        type: 'linear', position: 'left', min: -909.4, max: 699.55,
        afterBuildTicks: (s: any) => { s.ticks = monitorTicks.map((value) => ({ value })); },
        afterFit: (s: any) => { s.width = 102; s.paddingTop = 0; s.paddingBottom = 0; },
        ticks: { color: RED, font: { family: MONO, size: 14 }, padding: 4, callback: (v: any) => (Number(v) === 0 ? '0' : Number(v).toFixed(2)) },
        grid: { display: false },
        border: { color: RED, dash: [1, 2] },
      },
    },
    {
      guides: {
        before: [
          { y: monitorTicks[4], color: RED, dash: [1, 2] },
          { y: monitorTicks[3], color: RED, dash: [1, 2] },
          { y: monitorTicks[1], color: RED, dash: [1, 2] },
        ],
        after: [{ y: 0, color: RED, width: 2 }],
      },
      stripes: {
        edges: [CYAN, RED, RED, RED], edgeL: [0, 0, 0, 0], edgeR: [0.2, 0.06, 0.06, 0.06],
        labels: monitorNet.map((v) => v.toFixed(2)), labelColors: [CYAN, RED, RED, RED],
      },
      rail: { color: YELLOW, off: 0, xs: [0, 1, 2, 3], len: 4, line: false },
    },
  ),
  plugins: [stripes, guides, rail],
});

const ratioConfig = () => ({
  type: 'bar',
  data: { datasets: [{ data: ratioVal.map((v, i) => ({ x: i + 0.15, y: v })), backgroundColor: 'rgba(0,0,0,0)', barThickness: 30 }] },
  options: opts(
    {
      x: { ...catX(44, -9, [GREEN, BLUE, CYAN, RED], (i) => [ratioVal[i].toFixed(2), monitorCats[i]], 26 / 14), border: { color: RED } },
      y: {
        type: 'linear', position: 'left', min: 0, max: 105,
        afterBuildTicks: (s: any) => { s.ticks = ratioTicks.map((value) => ({ value })); },
        afterFit: (s: any) => { s.width = 102; s.paddingTop = 0; s.paddingBottom = 0; },
        ticks: { color: RED, font: { family: MONO, size: 15 }, padding: 4, callback: (v: any) => String(v) },
        grid: { display: false },
        border: { color: RED, dash: [1, 2] },
      },
    },
    {
      guides: { before: [25, 50, 75].map((v) => ({ y: v, color: RED, dash: [1, 2] })) },
      stripes: {
        edges: [GREEN, BLUE, CYAN, RED], edgeL: [0.1, 0.15, 0.1, 0.15], edgeR: [0.22, 0.28, 0.22, 0.3],
        labels: ratioChange, labelColors: [RED, RED, RED, RED],
      },
      rail: { color: YELLOW, off: 22, xs: [0, 1, 2, 3], len: 4, line: true },
    },
    { padding: { top: 6 } },
  ),
  plugins: [guides, stripes, rail],
});

// ---------------- components ----------------
function Cv({ x, y, w, h, make }: any) {
  const ref = useRef<HTMLCanvasElement>(null);
  useEffect(() => {
    const chart = new Chart(ref.current as any, make());
    return () => chart.destroy();
  }, []);
  return <canvas ref={ref} width={w} height={h} style={{ position: 'absolute', left: x, top: y, width: w, height: h }} />;
}

// split a string into Latin (mono 12.8px) and CJK (15px) runs, like a SimSun terminal font
const CJK_RE = /([\u2600-\u27BF\u2E80-\u9FFF\uF900-\uFAFF\uFE30-\uFE4F\uFF00-\uFFEF]+)/;
function mix(text: any) {
  if (typeof text !== 'string') return text;
  return text.split(CJK_RE).map((part, i) =>
    i % 2 ? <span key={i} style={{ fontFamily: CJK, fontSize: 15 }}>{part}</span> : <React.Fragment key={i}>{part}</React.Fragment>,
  );
}

function T({ x, y, s = 12.8, c = GRAY, f = MONO, w = 'normal', a = 'left', children, st = {} }: any) {
  const style: any = {
    position: 'absolute', top: y - 9, fontSize: s, lineHeight: '18px', color: c,
    fontFamily: f, fontWeight: w, whiteSpace: 'nowrap', ...st,
  };
  if (s > 15) { style.top = y - s * 0.6; style.lineHeight = `${s * 1.2}px`; }
  if (a === 'right') style.right = 1600 - x;
  else if (a === 'center') { style.left = x; style.transform = 'translateX(-50%)'; }
  else style.left = x;
  return <div style={style}>{children}</div>;
}
const S = ({ c, children }: any) => <span style={{ color: c }}>{mix(children)}</span>;
const Ln = ({ x, y, w, h, c = RED }: any) => <div style={{ position: 'absolute', left: x, top: y, width: w, height: h, background: c }} />;
const Box = ({ x, y, w, h, c = RED }: any) => (
  <div style={{ position: 'absolute', left: x, top: y, width: w, height: h, border: `1px solid ${c}`, boxSizing: 'border-box' }} />
);

export default function App() {
  const buyTotal = buyVolume.reduce((s, v) => s + v, 0);
  const sellTotal = sellVolume.reduce((s, v) => s + v, 0);
  const buyRows = [116, 141, 166, 191];
  const sellRows = [241, 266, 291, 316];
  const buyColors = [RED, DARKRED, DARKRED, ''];
  const sellColors = [CYAN, TEAL, TEAL, ''];
  const wm = { textShadow: '1px 1px 0 #505000, -1px 0 0 #303000' };

  return (
    <div style={{ position: 'fixed', left: 0, top: 0, width: 1600, height: 900, background: '#000', overflow: 'hidden' }}>
      {/* left charts */}
      <Cv x={0} y={0} w={1092} h={299} make={priceConfig} />
      <Cv x={0} y={299} w={1092} h={105} make={volConfig} />
      <Cv x={0} y={404} w={1092} h={104} make={flowConfig} />
      <Cv x={0} y={508} w={1092} h={75} make={holdConfig(mainHold, -45.01, -27.25, mainTicks)} />
      <Cv x={0} y={583} w={1092} h={76} make={holdConfig(retailHold, 98.48, 115.9, retailTicks)} />
      <Cv x={0} y={659} w={1092} h={105} make={activityConfig} />
      <Cv x={0} y={764} w={1092} h={136} make={researchConfig} />

      {/* right charts */}
      <Cv x={1103} y={65} w={248} h={248} make={pieConfig} />
      <Cv x={1092} y={354} w={508} h={90} make={intradayConfig} />
      <Cv x={1092} y={444} w={471} h={31} make={intradayVolConfig} />
      <Cv x={1092} y={520} w={508} h={204} make={monitorConfig} />
      <Cv x={1092} y={780} w={508} h={120} make={ratioConfig} />

      {/* separators left */}
      {[299, 404, 508, 583, 659, 764, 880].map((y) => <Ln key={y} x={0} y={y} w={1092} h={1} />)}
      <Ln x={1092} y={0} w={1} h={900} />
      <Box x={3} y={3} w={7} h={7} />
      <T x={56} y={9} s={16} c={RED} f={NUM} w="bold">?</T>
      <Box x={38} y={381} w={31} h={20} />
      <T x={41} y={391} s={15} c={RED} f={NUM}>X10</T>
      <Box x={0} y={765} w={70} h={116} />
      <T x={2} y={890} s={17} c={GRAY} f={CJK}>大智慧</T>

      {/* headers left */}
      <T x={73} y={8}>
        <S c={GRAY}>★浩云科技</S><S c={RED}>日线</S><S c={GRAY}> MA(5,10,20,30,60,120) </S>
        <S c={WHITE}>MA1: 8.244</S><S c={RED}>↑</S><S c={WHITE}>, </S>
        <S c={YELLOW}>MA2: 8.150</S><S c={RED}>↑</S><S c={YELLOW}>, </S>
        <S c={MAGENTA}>MA3: 7.956</S><S c={RED}>↑</S><S c={MAGENTA}>, </S>
        <S c={GREEN}>MA4: 8.012</S><S c={RED}>↑</S><S c={GREEN}>, </S>
        <S c={GRAY}>MA5: 7.689</S><S c={RED}>↑</S><S c={GRAY}>, </S>
        <S c={BLUE}>MA6: 7.058</S><S c={RED}>↑</S>
      </T>
      <T x={84} y={44} s={25} c={YELLOW} f={`${NUM}, "Noto Sans CJK SC"`} w="bold" st={wm}>
        爱查股网<span style={{ marginLeft: 26 }}>8月13日</span><span style={{ marginLeft: 30, fontSize: 26 }}>www.aichagu.com</span>
      </T>
      <T x={71} y={307}>
        <S c={GRAY}>VOL(5,10,20) </S><S c={WHITE}>368582.000</S><S c={GREEN}>↓</S><S c={WHITE}>, </S>
        <S c={YELLOW}>MA1: 294980.406</S><S c={RED}>↑</S><S c={YELLOW}>, </S>
        <S c={MAGENTA}>MA2: 250379.000</S><S c={RED}>↑</S><S c={MAGENTA}>, </S>
        <S c={GREEN}>MA3: 210010.594</S><S c={RED}>↑</S>
      </T>
      <T x={71} y={412}><S c={GRAY}>SVZJ  </S><S c={WHITE}>活跃资金进出: 373.537</S><S c={RED}>↑</S><S c={WHITE}>,</S></T>
      <T x={71} y={427}><S c={YELLOW}>超赢资金流(万元)</S></T>
      <T x={189} y={489} s={21} c={YELLOW} f={`${NUM}, "Noto Sans CJK SC"`} st={wm}>爱查股 www.aichagu.com</T>
      <T x={71} y={516}><S c={GRAY}>SVZL (7) </S><S c={GREEN}>7日内买卖净占比1.403%</S><S c={WHITE}> 主力持仓: -41.438</S><S c={RED}>↑</S><S c={WHITE}>,</S></T>
      <T x={71} y={531}><S c={YELLOW}>超赢主力持仓</S></T>
      <T x={71} y={591}><S c={GRAY}>SVSH (7) </S><S c={RED}>7日内买卖净占比1.394%</S><S c={WHITE}> 散户持仓: 111.020</S><S c={GREEN}>↓</S><S c={WHITE}>,</S></T>
      <T x={71} y={606}><S c={YELLOW}>超赢散户持仓</S></T>
      <T x={71} y={667}>
        <S c={GRAY}>AI活跃度2 </S><S c={WHITE}>资金活跃度: 7.118</S><S c={GREEN}>↓</S><S c={WHITE}>, </S><S c={YELLOW}>7.453, </S>
        <S c={WHITE}>生命线: 1.560, </S><S c={RED}>强势线: 3.000, </S><S c={MAGENTA}>爆发线: 6.000,</S>
      </T>
      <T x={71} y={774}>
        <S c={GRAY}>AI研究度2(10) </S><S c={WHITE}>资金研究度: 0.044</S><S c={RED}>↑</S><S c={WHITE}>, </S>
        <S c={YELLOW}>平均研究度: 0.073</S><S c={RED}>↑</S><S c={YELLOW}>, </S>
        <S c={MAGENTA}>连续飘红: 1.000</S><S c={RED}>↑</S><S c={MAGENTA}>, </S>
        <S c={GREEN}>N日飘红: 7.000</S><S c={RED}>↑</S><S c={GREEN}>, </S>
        <S c={BLUE}>0.073</S><S c={RED}>↑</S><S c={BLUE}>,</S>
      </T>
      <T x={71} y={795}><S c={WHITE}>总体近期大资金相对活跃，今日大单净流入：373.542万元，其中特大单净流入：93.385万元，大单5日累计净出-4624.039万元，当前主力控盘弱</S></T>

      {/* right panel frame */}
      <T x={1092} y={14} s={24} c={CYAN} f='"Liberation Serif", serif' w="bold">300448</T>
      <T x={1176} y={14} s={20} c={YELLOW} f={CJK} w="bold">浩云科技</T>
      <Ln x={1092} y={28} w={508} h={1} />
      <T x={1345} y={42} s={15} c={GRAY} f={CJK} a="center">龙虎看盘(逐单)</T>
      <Box x={1551} y={28} w={25} h={26} />
      <Box x={1575} y={28} w={25} h={26} />
      <T x={1563} y={41} s={15} c={GRAY} f={CJK} a="center">柱</T>
      <T x={1588} y={41} s={15} c={GRAY} f={CJK} a="center">笔</T>
      <Ln x={1363} y={53} w={1} h={274} />
      <Ln x={1363} y={80} w={237} h={1} />
      <Ln x={1363} y={206} w={237} h={1} />
      <Ln x={1385} y={80} w={1} h={247} />
      <Ln x={1092} y={327} w={508} h={1} />
      <T x={1367} y={66} s={18} c={GRAY} f={CJK} st={{ letterSpacing: 1.5 }}>已成交委托单成交量统计</T>
      <T x={1389} y={92} s={17} c="#e0e0e0" f={CJK}>共 {buyOrders}单 {buyAvg}手/单</T>
      <T x={1389} y={217} s={17} c="#e0e0e0" f={CJK}>共 {sellOrders}单 {sellAvg}手/单</T>
      <div style={{ position: 'absolute', left: 1366, top: 113, width: 18, fontSize: 17, lineHeight: '19.5px', color: GRAY, fontFamily: CJK }}>委<br />买<br />单</div>
      <div style={{ position: 'absolute', left: 1366, top: 238, width: 18, fontSize: 17, lineHeight: '19.5px', color: GRAY, fontFamily: CJK }}>委<br />卖<br />单</div>
      {orderTypes.map((t, i) => (
        <React.Fragment key={'b' + t}>
          {buyColors[i] && <div style={{ position: 'absolute', left: 1388, top: buyRows[i] - 8, width: 16, height: 16, background: buyColors[i] }} />}
          <T x={1415} y={buyRows[i]} s={17} c={GRAY} f={CJK}>{t}</T>
          <T x={1543} y={buyRows[i]} s={17} c={YELLOW} f={NUM} w="bold" a="right">{buyVolume[i]}</T>
          <T x={1598} y={buyRows[i]} s={17} c={YELLOW} f={NUM} w="bold" a="right">{Math.round((buyVolume[i] / buyTotal) * 100)}%</T>
          {sellColors[i] && <div style={{ position: 'absolute', left: 1388, top: sellRows[i] - 8, width: 16, height: 16, background: sellColors[i] }} />}
          <T x={1415} y={sellRows[i]} s={17} c={GRAY} f={CJK}>{t}</T>
          <T x={1543} y={sellRows[i]} s={17} c={YELLOW} f={NUM} w="bold" a="right">{sellVolume[i]}</T>
          <T x={1598} y={sellRows[i]} s={17} c={YELLOW} f={NUM} w="bold" a="right">{Math.round((sellVolume[i] / sellTotal) * 100)}%</T>
        </React.Fragment>
      ))}

      {/* intraday */}
      <T x={1345} y={340} s={15} c={GRAY} f={CJK} a="center">分时走势</T>
      <Ln x={1092} y={354} w={471} h={1} />
      <Ln x={1092} y={444} w={471} h={1} />
      <Ln x={1563} y={444} w={1} h={31} />
      <T x={1565} y={453} s={14} c={GRAY} f={MONO}>{intradayVolMax}</T>
      <T x={1565} y={468} s={15} c={GRAY} f={CJK}>分时</T>
      <Ln x={1092} y={475} w={508} h={2} />

      {/* Shenzhen monitor */}
      <T x={1333} y={490} s={16} c={GRAY} f={CJK} a="center">深圳超赢实时监控</T>
      <Box x={1574} y={476} w={26} h={26} />
      <T x={1587} y={489} s={16} c={GRAY} f={CJK} a="center">设</T>
      <T x={1194} y={510} s={13.5}><S c={RED}>时间: 2021/08/13</S></T>
      <T x={1094} y={698} s={15} c={GRAY} f={CJK}>净额(万元)</T>
      <T x={1094} y={714} s={15} c={GRAY} f={CJK}>分类</T>
      <Ln x={1092} y={724} w={508} h={1} />

      {/* Shenzhen ratio */}
      <T x={1333} y={737} s={16} c={GRAY} f={CJK} a="center">深市超赢分类统计</T>
      <Box x={1574} y={724} w={26} h={26} />
      <T x={1587} y={737} s={16} c={GRAY} f={CJK} a="center">设</T>
      <T x={1194} y={758} s={13.5}><S c={RED}>时间: 2021/08/13</S></T>
      <T x={1094} y={865} s={15} c={GRAY} f={CJK}>比例%</T>
      <T x={1094} y={882} s={15} c={GRAY} f={CJK}>分类</T>
    </div>
  );
}
